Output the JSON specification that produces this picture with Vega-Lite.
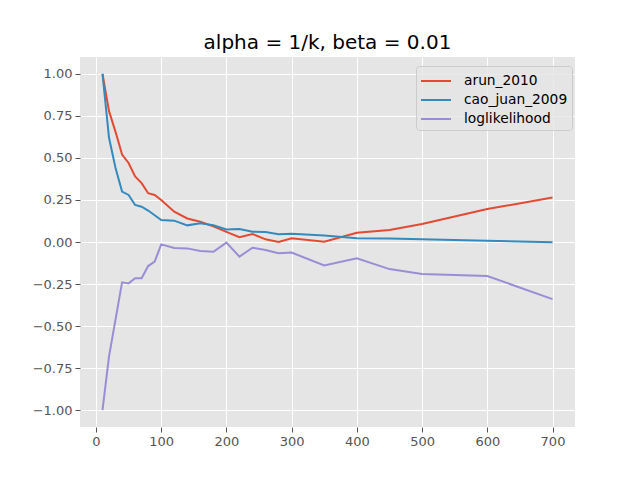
{
  "$schema": "https://vega.github.io/schema/vega-lite/v6.json",
  "width": 495,
  "height": 370,
  "autosize": "none",
  "padding": {"left": 80, "top": 57, "right": 65, "bottom": 53},
  "background": "white",
  "title": {"text": "alpha = 1/k, beta = 0.01", "fontSize": 20, "font": "DejaVu Sans", "fontWeight": "normal", "color": "black", "offset": 4, "anchor": "middle"},
  "config": {
    "view": {"fill": "#E5E5E5", "stroke": null},
    "axis": {"gridColor": "white", "gridWidth": 1, "gridOpacity": 1, "domain": false, "tickColor": "#555555", "tickSize": 5, "tickWidth": 1, "labelColor": "#555555", "labelFont": "DejaVu Sans", "labelFontSize": 13, "labelPadding": 3, "title": null}
  },
  "data": {"values": [
    {"x":10,"s":"arun_2010","y":1.0},{"x":20,"s":"arun_2010","y":0.778},{"x":30,"s":"arun_2010","y":0.655},{"x":40,"s":"arun_2010","y":0.52},{"x":50,"s":"arun_2010","y":0.47},{"x":60,"s":"arun_2010","y":0.39},{"x":70,"s":"arun_2010","y":0.35},{"x":80,"s":"arun_2010","y":0.29},{"x":90,"s":"arun_2010","y":0.28},{"x":100,"s":"arun_2010","y":0.25},{"x":120,"s":"arun_2010","y":0.18},{"x":140,"s":"arun_2010","y":0.14},{"x":160,"s":"arun_2010","y":0.12},{"x":180,"s":"arun_2010","y":0.093},{"x":200,"s":"arun_2010","y":0.06},{"x":220,"s":"arun_2010","y":0.028},{"x":240,"s":"arun_2010","y":0.048},{"x":260,"s":"arun_2010","y":0.016},{"x":280,"s":"arun_2010","y":0.0},{"x":300,"s":"arun_2010","y":0.022},{"x":350,"s":"arun_2010","y":0.002},{"x":400,"s":"arun_2010","y":0.055},{"x":450,"s":"arun_2010","y":0.071},{"x":500,"s":"arun_2010","y":0.107},{"x":600,"s":"arun_2010","y":0.196},{"x":700,"s":"arun_2010","y":0.264},
    {"x":10,"s":"cao_juan_2009","y":1.0},{"x":20,"s":"cao_juan_2009","y":0.62},{"x":30,"s":"cao_juan_2009","y":0.44},{"x":40,"s":"cao_juan_2009","y":0.3},{"x":50,"s":"cao_juan_2009","y":0.28},{"x":60,"s":"cao_juan_2009","y":0.22},{"x":70,"s":"cao_juan_2009","y":0.21},{"x":80,"s":"cao_juan_2009","y":0.187},{"x":90,"s":"cao_juan_2009","y":0.159},{"x":100,"s":"cao_juan_2009","y":0.131},{"x":120,"s":"cao_juan_2009","y":0.127},{"x":140,"s":"cao_juan_2009","y":0.099},{"x":160,"s":"cao_juan_2009","y":0.111},{"x":180,"s":"cao_juan_2009","y":0.099},{"x":200,"s":"cao_juan_2009","y":0.075},{"x":220,"s":"cao_juan_2009","y":0.077},{"x":240,"s":"cao_juan_2009","y":0.061},{"x":260,"s":"cao_juan_2009","y":0.06},{"x":280,"s":"cao_juan_2009","y":0.046},{"x":300,"s":"cao_juan_2009","y":0.049},{"x":350,"s":"cao_juan_2009","y":0.038},{"x":400,"s":"cao_juan_2009","y":0.022},{"x":450,"s":"cao_juan_2009","y":0.021},{"x":500,"s":"cao_juan_2009","y":0.016},{"x":600,"s":"cao_juan_2009","y":0.008},{"x":700,"s":"cao_juan_2009","y":-0.002},
    {"x":10,"s":"loglikelihood","y":-1.0},{"x":20,"s":"loglikelihood","y":-0.68},{"x":30,"s":"loglikelihood","y":-0.46},{"x":40,"s":"loglikelihood","y":-0.24},{"x":50,"s":"loglikelihood","y":-0.246},{"x":60,"s":"loglikelihood","y":-0.216},{"x":70,"s":"loglikelihood","y":-0.216},{"x":80,"s":"loglikelihood","y":-0.143},{"x":90,"s":"loglikelihood","y":-0.117},{"x":100,"s":"loglikelihood","y":-0.014},{"x":120,"s":"loglikelihood","y":-0.036},{"x":140,"s":"loglikelihood","y":-0.038},{"x":160,"s":"loglikelihood","y":-0.054},{"x":180,"s":"loglikelihood","y":-0.058},{"x":200,"s":"loglikelihood","y":-0.004},{"x":220,"s":"loglikelihood","y":-0.087},{"x":240,"s":"loglikelihood","y":-0.034},{"x":260,"s":"loglikelihood","y":-0.048},{"x":280,"s":"loglikelihood","y":-0.067},{"x":300,"s":"loglikelihood","y":-0.063},{"x":350,"s":"loglikelihood","y":-0.139},{"x":400,"s":"loglikelihood","y":-0.097},{"x":450,"s":"loglikelihood","y":-0.161},{"x":500,"s":"loglikelihood","y":-0.19},{"x":600,"s":"loglikelihood","y":-0.202},{"x":700,"s":"loglikelihood","y":-0.34}
  ]},
  "mark": {"type": "line", "strokeWidth": 2, "clip": true},
  "encoding": {
    "x": {"field": "x", "type": "quantitative", "scale": {"domain": [-24.5, 734.5], "nice": false, "zero": false}, "axis": {"values": [0,100,200,300,400,500,600,700]}},
    "y": {"field": "y", "type": "quantitative", "scale": {"domain": [-1.1, 1.1], "nice": false}, "axis": {"values": [-1,-0.75,-0.5,-0.25,0,0.25,0.5,0.75,1], "format": ".2f"}},
    "color": {"field": "s", "type": "nominal", "scale": {"domain": ["arun_2010","cao_juan_2009","loglikelihood"], "range": ["#E24A33","#348ABD","#988ED5"]},
      "legend": {"title": null, "orient": "none", "legendX": 336, "legendY": 9, "symbolType": "M-1,0H2", "symbolStrokeWidth": 2, "symbolSize": 400, "labelFont": "DejaVu Sans", "labelFontSize": 13.8, "labelColor": "black", "fillColor": "rgba(229,229,229,0.8)", "strokeColor": "#CCCCCC", "cornerRadius": 3, "padding": 4, "rowPadding": 1, "labelOffset": 22, "offset": 0}}
  }
}
